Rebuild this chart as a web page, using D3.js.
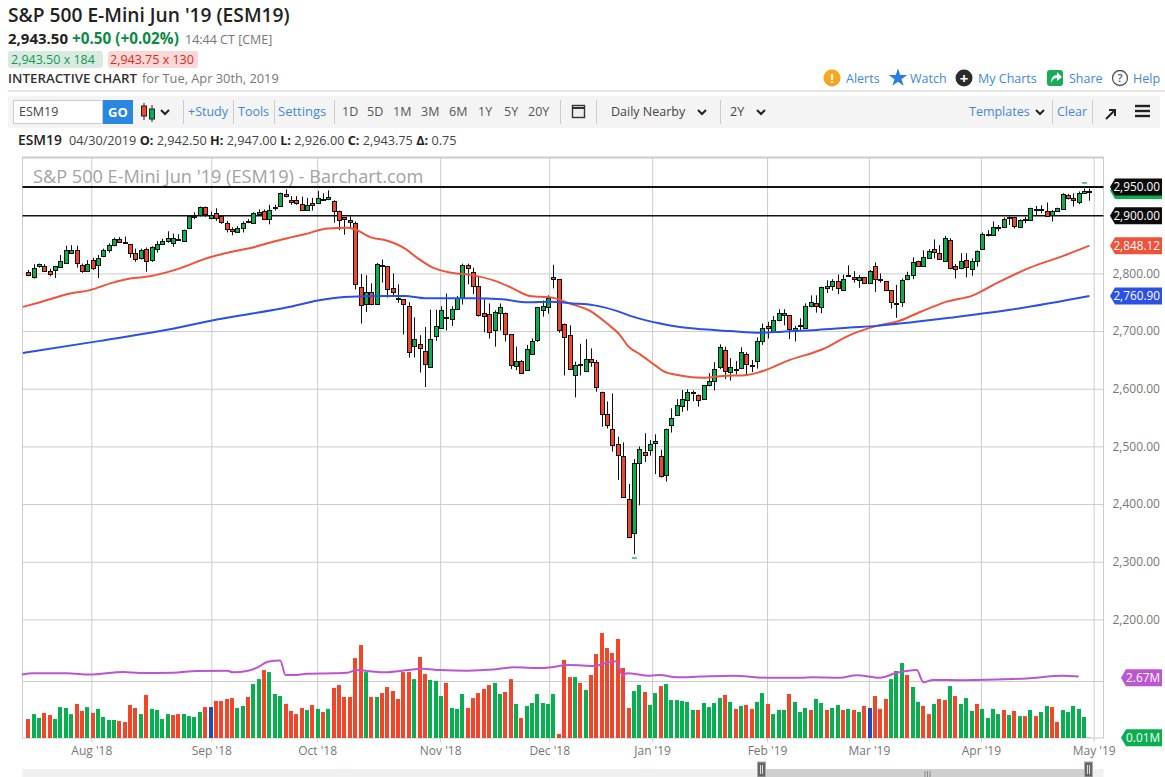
<!DOCTYPE html>
<html>
<head>
<meta charset="utf-8">
<title>ESM19</title>
<script src="https://cdn.jsdelivr.net/npm/d3@7"></script>
<style>
  html, body { margin: 0; padding: 0; background: #fff; overflow: hidden; }
  text { font-family: "Open Sans", sans-serif; }
</style>
</head>
<body>
<div id="chart"></div>
<script>
// Daily candles. Index 0 is the first bar on the left.
const opens = [2803,2795,2812,2813,2805,2805,2810,2819,2835,2840,2815,2805,2824,2814,2830,2842,2849,2860,2855,2851,
  2835,2826,2842,2822,2843,2852,2856,2852,2860,2857,2878,2899,2901,2915,2897,2905,2899,2888,2877,2872,
  2879,2889,2887,2903,2909,2895,2913,2917,2938,2928,2927,2921,2910,2922,2921,2929,2928,2925,2909,2897,
  2892,2887,2776,2748,2768,2747,2815,2812,2774,2758,2755,2744,2674,2677,2666,2638,2691,2706,2725,2722,
  2739,2757,2815,2803,2778,2732,2730,2702,2731,2732,2695,2639,2648,2633,2661,2684,2737,2742,2793,2790,
  2713,2694,2625,2643,2632,2652,2646,2595,2557,2531,2505,2484,2408,2349,2471,2491,2495,2507,2483,2452,
  2537,2554,2569,2580,2595,2589,2582,2606,2615,2637,2668,2630,2634,2635,2660,2640,2647,2683,2708,2699,
  2718,2728,2727,2701,2708,2706,2743,2749,2741,2776,2777,2786,2772,2797,2794,2788,2794,2784,2813,2791,
  2786,2771,2748,2750,2790,2797,2821,2813,2826,2842,2836,2822,2858,2812,2809,2823,2807,2821,2843,2866,
  2866,2879,2881,2895,2898,2881,2892,2893,2910,2911,2909,2901,2908,2911,2936,2930,2924,2939,2942.5];
const highs = [2806,2816,2817,2816,2808,2813,2832,2848,2849,2848,2817,2823,2827,2832,2843,2852,2862,2863,2864,2851,
  2843,2843,2845,2847,2856,2860,2873,2869,2868,2876,2899,2906,2916,2916,2907,2913,2899,2891,2880,2882,
  2890,2894,2906,2911,2911,2919,2919,2940,2946,2934,2934,2933,2931,2931,2943,2939,2944,2927,2909,2898,
  2899,2890,2799,2797,2783,2818,2824,2812,2800,2781,2755,2750,2724,2693,2707,2737,2737,2743,2765,2743,
  2761,2817,2817,2810,2794,2755,2748,2736,2748,2732,2695,2673,2650,2676,2687,2742,2753,2762,2815,2790,
  2713,2710,2647,2678,2686,2670,2650,2595,2578,2592,2517,2507,2435,2478,2500,2523,2511,2521,2494,2531,
  2566,2582,2598,2599,2597,2590,2606,2627,2646,2677,2673,2653,2648,2672,2663,2650,2689,2713,2716,2726,
  2738,2738,2727,2709,2722,2748,2762,2762,2777,2788,2790,2798,2798,2814,2804,2797,2794,2806,2819,2800,
  2786,2771,2780,2791,2803,2828,2822,2840,2842,2859,2849,2865,2861,2816,2835,2835,2826,2840,2871,2875,
  2890,2884,2897,2899,2898,2894,2898,2914,2917,2918,2923,2910,2914,2939,2938,2939,2942,2947,2947];
const lows = [2795,2791,2810,2804,2795,2792,2810,2817,2834,2810,2801,2803,2806,2792,2828,2836,2847,2854,2851,2827,
  2820,2824,2803,2820,2836,2852,2853,2846,2857,2856,2877,2894,2899,2898,2894,2891,2886,2871,2866,2871,
  2871,2887,2887,2900,2894,2885,2909,2916,2932,2919,2919,2910,2910,2909,2921,2927,2927,2888,2875,2867,
  2877,2772,2713,2733,2745,2745,2784,2758,2761,2749,2694,2654,2654,2628,2603,2636,2683,2705,2701,2709,
  2739,2746,2781,2764,2725,2698,2687,2673,2701,2682,2634,2632,2627,2632,2660,2681,2725,2730,2774,2697,
  2623,2635,2585,2623,2631,2638,2595,2534,2531,2491,2442,2412,2342,2313,2398,2473,2484,2452,2446,2439,
  2524,2553,2560,2562,2578,2569,2582,2604,2597,2634,2617,2614,2625,2634,2622,2629,2635,2676,2687,2697,
  2717,2710,2686,2682,2700,2706,2741,2732,2731,2766,2770,2764,2772,2795,2784,2775,2783,2784,2768,2784,
  2769,2739,2723,2742,2788,2790,2812,2813,2825,2826,2824,2822,2807,2791,2807,2793,2796,2812,2842,2864,
  2865,2873,2880,2884,2878,2880,2887,2891,2901,2904,2901,2890,2907,2910,2928,2916,2920,2939,2926];
const closes = [2797,2810,2816,2805,2800,2812,2821,2841,2841,2817,2804,2817,2810,2827,2840,2850,2859,2855,2853,2836,
  2824,2840,2821,2845,2851,2857,2861,2861,2858,2876,2899,2900,2915,2903,2902,2896,2888,2877,2874,2879,
  2888,2890,2904,2906,2895,2910,2915,2939,2934,2925,2921,2910,2919,2918,2930,2928,2932,2908,2894,2894,
  2888,2781,2745,2768,2748,2817,2814,2772,2767,2757,2746,2665,2687,2670,2644,2686,2709,2737,2724,2739,
  2758,2815,2809,2779,2727,2727,2698,2733,2742,2696,2641,2648,2628,2669,2683,2741,2744,2758,2790,2702,
  2691,2635,2642,2641,2652,2646,2602,2556,2538,2504,2486,2413,2342,2471,2495,2486,2505,2510,2448,2531,
  2550,2572,2582,2594,2594,2580,2606,2613,2635,2672,2632,2638,2635,2663,2642,2641,2682,2705,2705,2720,
  2731,2731,2703,2706,2710,2744,2750,2743,2776,2779,2786,2774,2791,2798,2791,2794,2784,2805,2791,2790,
  2771,2750,2746,2788,2797,2819,2813,2829,2839,2836,2826,2862,2810,2807,2822,2810,2821,2839,2869,2868,
  2880,2881,2895,2897,2882,2893,2894,2913,2911,2910,2901,2908,2913,2937,2931,2926,2940,2943,2943.75];

// Volume in millions of contracts, and how the bar was coloured (u up, d down, m marked).
const volumes = [.84,1.06,.89,1.11,1.02,.84,1.37,1.33,1.06,1.51,1.2,1.37,1.11,1.29,.93,.8,.8,.75,.71,1.46,
  1.33,1.06,1.91,1.29,1.24,.84,1.06,1.02,1.06,1.06,.97,.93,1.15,1.37,1.37,1.64,1.64,1.73,1.77,1.33,
  1.42,1.82,2.39,2.61,3.01,2.92,1.95,1.86,1.51,1.2,1.06,1.33,1.24,1.46,1.29,1.15,1.29,2.22,2.35,1.82,
  1.82,3.54,4.12,2.92,1.82,1.82,1.99,2.26,2.08,1.73,2.92,2.92,2.61,3.59,2.84,2.57,2.53,1.86,2.44,1.33,
  1.29,1.95,1.33,1.77,1.99,2.17,2.35,2.44,1.95,2.04,2.61,1.51,.89,1.42,1.55,1.95,1.55,1.51,1.95,.18,
  3.46,2.7,2.7,2.44,2.13,2.79,3.72,4.65,3.99,3.77,4.39,3.1,1.33,2.08,2.35,2.04,1.46,1.99,2.3,2.39,
  1.68,1.68,1.64,1.6,1.24,1.24,1.55,1.37,1.55,1.77,1.91,1.6,1.29,1.42,1.46,1.29,1.6,1.99,1.51,1.06,
  1.24,1.24,1.95,1.6,1.15,1.33,1.24,1.73,1.55,1.24,1.33,1.46,1.24,1.29,1.24,1.15,1.42,1.33,1.86,1.29,
  1.73,2.61,2.97,3.32,2.79,2.26,1.6,1.42,1.06,1.51,1.73,1.68,2.3,1.86,1.51,1.77,1.2,1.51,1.29,.89,
  1.29,1.06,1.24,1.02,1.2,.97,.97,1.24,.97,1.15,1.42,1.37,.71,1.24,1.15,1.42,1.29,.93,.01];
const volumeSides = ("d u u d d u u u u d d u d u u u u d d d d u d u u u u d d u u u u d m d d d d u " +
  "u d u u d u u u d d d d u d u d u d d d d d d u d u d d d d d d u d d u u u d u " +
  "u u d d d d d u u d d u d u u u u u u d d d u d u d d d d d d d d u u d u u d u " +
  "u u u u u d u u u u d u d u d d u u d u u u d u u u d u u d u u d u d u d m d d " +
  "d u u u d u u d d u d d u d u u u d u u u u d u d u d u d u u d d u u u u").split(" ");

// Moving averages, read at a few places along each line: [bar index, value].
const sma50 = [[-1,2742],[2.2,2750],[7.8,2765],[11.5,2771],[15.8,2784],[19,2791],[22.7,2795],[27.7,2807],[33.9,2828],
  [38.2,2838],[41.9,2845],[45.7,2855],[48.8,2862],[51.6,2868],[55.9,2878],[59.6,2879],[61,2876],[64.1,2862],[66.5,2858],
  [70.3,2843],[72.7,2826],[75.5,2810],[79,2801],[82.8,2797],[87.1,2787],[90.2,2775],[93.6,2761],[97.7,2758],[101,2748],
  [105.2,2733],[108,2713],[110.4,2693],[111.9,2674],[114.1,2660],[116.9,2641],[118.4,2631],[121.6,2623],[125.9,2619],
  [129.6,2622],[134.1,2624],[136.5,2629],[142.1,2650],[148.1,2668],[153.3,2693],[158.3,2709],[162.6,2718],[166.4,2733],
  [171.4,2751],[176.3,2762],[180.7,2783],[186.9,2810],[193,2830],[198,2848.12]];
const sma200 = [[-1,2662],[13.4,2683],[24.6,2700],[35.2,2720],[48.8,2742],[54,2753],[59,2759],[66.5,2761],[70.3,2761],
  [74,2757],[82.8,2757],[88.4,2755],[93.2,2750],[97.3,2751],[101.6,2748],[105.4,2745],[109.8,2735],[112.8,2725],[117.9,2713],
  [121.6,2707],[125.9,2703],[130.9,2700],[136.5,2697],[140.8,2699],[147.2,2702],[153.3,2706],[158.3,2709],[162.6,2713],
  [171.9,2723],[182.6,2736],[198,2760.9]];
const volumeAvg = [[-1.2,2.81],[.9,2.87],[7.2,2.87],[11.5,2.81],[17.7,2.92],[20.8,2.88],[27,2.89],[31.5,2.97],[37.1,2.98],
  [38.2,2.91],[41,2.98],[42.7,3.12],[44.7,3.38],[47,3.43],[48,2.79],[50.1,2.79],[52,2.85],[56.8,2.87],[59.5,2.89],[61.3,3.01],
  [63.2,2.97],[66.2,2.91],[69.4,2.97],[73.6,3.07],[76.8,3.01],[81.9,2.98],[86.7,3.03],[90.4,3.13],[96,3.1],[101,3.23],
  [105.7,3.19],[107.2,3.28],[109.8,3.4],[110.9,2.76],[111.7,2.87],[116,2.76],[117.9,2.79],[121,2.69],[125.3,2.72],[131.5,2.76],
  [137.8,2.67],[144,2.67],[146.4,2.69],[151.4,2.67],[154.6,2.78],[158.9,2.67],[162.1,2.89],[165.8,3.01],[167,2.47],[168.8,2.57],
  [174.4,2.56],[183.7,2.61],[186.3,2.64],[193,2.76],[196,2.73]];

// Axis ticks.
const monthTicks = [11.76,34.15,53.9,76.85,97.2,116.4,137.85,156.85,177.75,198.8];
const monthLabels = ["Aug '18","Sep '18","Oct '18","Nov '18","Dec '18","Jan '19","Feb '19","Mar '19","Apr '19","May '19"];
const priceTicks = [2800,2700,2600,2500,2400,2300,2200];
const levelLines = [2950,2900];

const WIDTH = 1165;
const HEIGHT = 777;
const PLOT = { left: 22.5, right: 1103.5, top: 157.5, split: 619.5, bottom: 738 };

const RED = "#f1462a";
const GREEN = "#07af4f";
const LINK = "#3f87dc";

const svg = d3.select("#chart").append("svg").attr("width", WIDTH).attr("height", HEIGHT);

const x = d3.scaleLinear().domain([0, 198]).range([28.3, 1089.4]);
const yPrice = d3.scaleLinear().domain([2200, 2950]).range([619.4, 186.9]);
const yVolume = d3.scaleLinear().domain([0, 1]).range([738, 715.43]);
const volumeColor = d3.scaleOrdinal().domain(["u", "d", "m"]).range([GREEN, RED, "#2349b8"]);

drawHeader();
drawToolbar();
drawGrid();
drawVolume();
drawCandles();
drawLines();
drawTags();
drawScroller();

/**
 * Small helper for plain text.
 */
function label (parent, str, px, py, size, fill, weight, anchor) {
  return parent.append("text")
    .attr("x", px).attr("y", py)
    .attr("font-size", size)
    .attr("font-weight", weight || 400)
    .attr("text-anchor", anchor || "start")
    .attr("fill", fill)
    .text(str);
}

/**
 * Quote block and the links at the top right.
 */
function drawHeader () {
  const g = svg.append("g");
  label(g, "S&P 500 E-Mini Jun '19 (ESM19)", 8, 22, 19.2, "#222", 600);
  label(g, "2,943.50", 8, 44, 15, "#222", 700);
  label(g, "+0.50 (+0.02%)", 72, 44, 15.3, "#0a8a45", 700);
  label(g, "14:44 CT [CME]", 185, 44, 12.5, "#777");

  g.append("rect").attr("x", 8).attr("y", 51).attr("width", 95).attr("height", 17).attr("rx", 3).attr("fill", "#d9ebe0");
  label(g, "2,943.50 x 184", 11, 64, 12.5, "#15994f");
  g.append("rect").attr("x", 108).attr("y", 51).attr("width", 90).attr("height", 17).attr("rx", 3).attr("fill", "#f9d9d7");
  label(g, "2,943.75 x 130", 110, 64, 12.5, "#e0281c");

  label(g, "INTERACTIVE CHART", 8, 83, 13.3, "#333", 600);
  label(g, "for Tue, Apr 30th, 2019", 142, 83, 12.8, "#777");

  g.append("line").attr("x1", 8).attr("x2", WIDTH).attr("y1", 91).attr("y2", 91).attr("stroke", "#ccc");

  // right hand links
  g.append("circle").attr("cx", 832).attr("cy", 78).attr("r", 8.5).attr("fill", "#f8a51f");
  label(g, "!", 832, 83, 13, "#fff", 700, "middle");
  label(g, "Alerts", 846, 83, 12.5, LINK);
  const star = d3.symbol().type(d3.symbolStar).size(105);
  g.append("path").attr("d", star()).attr("transform", "translate(898,78)").attr("fill", "#2a7de1");
  label(g, "Watch", 910, 83, 12.5, LINK);
  g.append("circle").attr("cx", 964).attr("cy", 78).attr("r", 8.5).attr("fill", "#2b2b2b");
  label(g, "+", 964, 83.5, 15, "#fff", 700, "middle");
  label(g, "My Charts", 978, 83, 12.5, LINK);
  g.append("rect").attr("x", 1047).attr("y", 70).attr("width", 16).attr("height", 16).attr("rx", 3).attr("fill", "#18ab5a");
  g.append("path").attr("d", "M1051 83 Q1051 75 1057 75 L1057 72 L1062 77 L1057 81 L1057 78 Q1053 78 1051 83Z").attr("fill", "#fff");
  label(g, "Share", 1069, 83, 12.5, LINK);
  g.append("circle").attr("cx", 1120).attr("cy", 78).attr("r", 7.5).attr("fill", "#fff").attr("stroke", "#555").attr("stroke-width", 1.3);
  label(g, "?", 1120, 82, 11, "#555", 600, "middle");
  label(g, "Help", 1133, 83, 12.5, LINK);

  label(g, "ESM19", 18, 145, 13.8, "#222", 600);
  const info = g.append("text").attr("x", 69).attr("y", 145).attr("font-size", 12.7).attr("fill", "#444");
  [["04/30/2019 ", 400], ["O: ", 700], ["2,942.50 ", 400], ["H: ", 700], ["2,947.00 ", 400], ["L: ", 700],
    ["2,926.00 ", 400], ["C: ", 700], ["2,943.75 ", 400], ["Δ: ", 700], ["0.75", 400]].forEach(d => {
    info.append("tspan").attr("font-weight", d[1]).attr("fill", d[1] == 700 ? "#222" : "#444").text(d[0]);
  });
}

/**
 * Grey strip with the symbol box and the period buttons.
 */
function drawToolbar () {
  const g = svg.append("g");
  g.append("rect").attr("x", 8).attr("y", 96).attr("width", WIDTH - 13).attr("height", 32).attr("fill", "#f4f4f4");
  g.append("rect").attr("x", 13.5).attr("y", 100.5).attr("width", 89).attr("height", 23).attr("fill", "#fff").attr("stroke", "#ccc");
  label(g, "ESM19", 19, 116, 12.5, "#444");
  g.append("rect").attr("x", 103).attr("y", 100).attr("width", 30).attr("height", 24).attr("fill", "#2a87e0");
  label(g, "GO", 118, 116.5, 13, "#fff", 700, "middle");

  // chart type icon
  g.append("line").attr("x1", 144).attr("x2", 144).attr("y1", 103).attr("y2", 120).attr("stroke", "#222");
  g.append("rect").attr("x", 141.5).attr("y", 106).attr("width", 5).attr("height", 10).attr("fill", RED).attr("stroke", "#222");
  g.append("line").attr("x1", 152).attr("x2", 152).attr("y1", 105).attr("y2", 122).attr("stroke", "#222");
  g.append("rect").attr("x", 149.5).attr("y", 109).attr("width", 5).attr("height", 10).attr("fill", GREEN).attr("stroke", "#222");

  [165, 702, 761, 1040].forEach(cx => {
    g.append("path").attr("d", `M${cx - 4} 110 L${cx} 114 L${cx + 4} 110`)
      .attr("fill", "none").attr("stroke", "#222").attr("stroke-width", 2);
  });

  [183, 233, 274, 334, 560, 596, 720, 1052, 1092].forEach(sx => {
    g.append("line").attr("x1", sx + .5).attr("x2", sx + .5).attr("y1", 100).attr("y2", 124).attr("stroke", "#ccc");
  });

  label(g, "+Study", 188, 116, 12.5, LINK);
  label(g, "Tools", 238, 116, 12.5, LINK);
  label(g, "Settings", 278, 116, 13, LINK);
  [["1D", 342], ["5D", 367], ["1M", 393], ["3M", 421], ["6M", 449], ["1Y", 478], ["5Y", 504], ["20Y", 528]].forEach(d => {
    label(g, d[0], d[1], 116, 12.5, "#555");
  });
  label(g, "Daily Nearby", 611, 116, 12.5, "#444");
  label(g, "2Y", 730, 116, 12.5, "#444");
  label(g, "Templates", 969, 116, 12.5, LINK);
  label(g, "Clear", 1057, 116, 12.5, LINK);

  // calendar
  g.append("rect").attr("x", 572.5).attr("y", 105.5).attr("width", 12).attr("height", 12).attr("fill", "#eee").attr("stroke", "#333").attr("stroke-width", 1.4);
  g.append("line").attr("x1", 572).attr("x2", 585).attr("y1", 108).attr("y2", 108).attr("stroke", "#333").attr("stroke-width", 2);
  // arrow and menu
  g.append("path").attr("d", "M1106 119 L1114 111 M1109 110 L1115 110 L1115 116").attr("fill", "none").attr("stroke", "#222").attr("stroke-width", 2);
  [106, 111, 116].forEach(my => {
    g.append("line").attr("x1", 1135).attr("x2", 1150).attr("y1", my).attr("y2", my).attr("stroke", "#222").attr("stroke-width", 2.4);
  });
}

/**
 * Frame, grid lines and the axes.
 */
function drawGrid () {
  const g = svg.append("g");

  // vertical month lines and their labels
  const monthAxis = d3.axisBottom(x)
    .tickValues(monthTicks)
    .tickFormat((d, i) => monthLabels[i])
    .tickSize(PLOT.bottom - PLOT.top + 4)
    .tickPadding(4);
  const months = g.append("g").attr("transform", `translate(0,${PLOT.top})`).call(monthAxis);
  months.select(".domain").remove();
  months.selectAll("line").attr("stroke", "#ccc");
  months.selectAll("text").attr("font-size", 12).attr("fill", "#777").attr("font-family", '"Open Sans", sans-serif');

  // horizontal price lines and their labels
  const priceGrid = d3.axisLeft(yPrice).tickValues(priceTicks).tickSize(PLOT.right - PLOT.left).tickFormat("");
  const grid = g.append("g").attr("transform", `translate(${PLOT.right},0)`).call(priceGrid);
  grid.select(".domain").remove();
  grid.selectAll("line").attr("stroke", "#ccc");

  const priceAxis = d3.axisRight(yPrice).tickValues(priceTicks).tickSize(0).tickPadding(9).tickFormat(d3.format(",.2f"));
  const prices = g.append("g").attr("transform", `translate(${PLOT.right},0)`).call(priceAxis);
  prices.select(".domain").remove();
  prices.selectAll("text").attr("font-size", 12).attr("fill", "#777").attr("font-family", '"Open Sans", sans-serif');

  // volume pane has a single line
  g.append("line").attr("x1", PLOT.left).attr("x2", PLOT.right)
    .attr("y1", Math.round(yVolume(2.52)) + .5).attr("y2", Math.round(yVolume(2.52)) + .5).attr("stroke", "#ccc");

  g.append("rect").attr("x", PLOT.left).attr("y", PLOT.top)
    .attr("width", PLOT.right - PLOT.left).attr("height", PLOT.bottom - PLOT.top)
    .attr("fill", "none").attr("stroke", "#ccc");
  g.append("line").attr("x1", PLOT.left).attr("x2", PLOT.right).attr("y1", PLOT.top).attr("y2", PLOT.top)
    .attr("stroke", "#ccc").attr("stroke-width", 2);

  label(g, "S&P 500 E-Mini Jun '19 (ESM19) - Barchart.com", 33, 183, 18.15, "#a3a3a3");
}

/**
 * Volume bars.
 */
function drawVolume () {
  svg.append("g").selectAll("rect")
    .data(volumes)
    .join("rect")
    .attr("x", (d, i) => Math.round(x(i) - 2))
    .attr("y", d => yVolume(d))
    .attr("width", 4)
    .attr("height", d => yVolume(0) - yVolume(d))
    .attr("fill", (d, i) => volumeColor(volumeSides[i]));
}

/**
 * Candles: a wick and a body for every bar, with the two level lines behind them.
 */
function drawCandles () {
  const g = svg.append("g");

  g.selectAll("line.level")
    .data(levelLines)
    .join("line")
    .classed("level", true)
    .attr("x1", PLOT.left).attr("x2", PLOT.right)
    .attr("y1", d => yPrice(d)).attr("y2", d => yPrice(d))
    .attr("stroke", "#111")
    .attr("stroke-width", d => d == 2950 ? 2 : 1.4);

  const candles = g.selectAll("g.candle")
    .data(opens.map((o, i) => ({ i, o, h: highs[i], l: lows[i], c: closes[i] })))
    .join("g")
    .classed("candle", true);

  candles.append("line")
    .attr("x1", d => Math.round(x(d.i)) + .5).attr("x2", d => Math.round(x(d.i)) + .5)
    .attr("y1", d => yPrice(d.h)).attr("y2", d => yPrice(d.l))
    .attr("stroke", "#111");

  candles.append("rect")
    .attr("x", d => Math.round(x(d.i)) - 1.5)
    .attr("y", d => Math.round(yPrice(Math.max(d.o, d.c))) + .5)
    .attr("width", 4)
    .attr("height", d => Math.max(1, Math.round(Math.abs(yPrice(d.o) - yPrice(d.c)))))
    .attr("fill", d => d.c >= d.o ? GREEN : RED)
    .attr("stroke", "#111");

  // little high and low markers, a few pixels off the extreme bars
  const highBar = 197;
  const lowBar = d3.leastIndex(lows);
  g.append("rect").attr("x", x(highBar) - 2).attr("y", yPrice(highs[highBar]) - 6.5).attr("width", 5).attr("height", 1.6)
    .attr("fill", "#3cb878");
  g.append("rect").attr("x", x(lowBar) - 2).attr("y", yPrice(lows[lowBar]) + 3).attr("width", 5).attr("height", 1.6)
    .attr("fill", "#3cb878");
}

/**
 * Moving averages on both panes.
 */
function drawLines () {
  const g = svg.append("g").attr("fill", "none").attr("stroke-linejoin", "round");
  const priceLine = d3.line().x(d => x(d[0])).y(d => yPrice(d[1])).curve(d3.curveMonotoneX);
  const volumeLine = d3.line().x(d => x(d[0])).y(d => yVolume(d[1])).curve(d3.curveMonotoneX);
  g.append("path").attr("d", priceLine(sma50)).attr("stroke", "#f0533a").attr("stroke-width", 2);
  g.append("path").attr("d", priceLine(sma200)).attr("stroke", "#2b50e8").attr("stroke-width", 2);
  g.append("path").attr("d", volumeLine(volumeAvg)).attr("stroke", "#bb55d2").attr("stroke-width", 2);
}

/**
 * Value flags down the right side.
 */
function drawTags () {
  const g = svg.append("g");
  const tag = (py, left, fill, str) => {
    const h = 8.5;
    const t = g.append("g");
    t.append("path")
      .attr("d", `M${left} ${py} L${left + 5} ${py - h} L1162 ${py - h} L1162 ${py + h} L${left + 5} ${py + h} Z`)
      .attr("fill", fill);
    if (str) {
      t.append("text").attr("x", 1160).attr("y", py + 4.5).attr("text-anchor", "end")
        .attr("font-size", 11.8).attr("fill", "#fff")
        .text(str);
    }
  };
  // last price sits behind the 2,950 flag, only its rim shows
  tag(yPrice(closes[198]), 1110, GREEN, "");
  tag(yPrice(2950), 1110, "#0b0b0b", "2,950.00");
  tag(yPrice(2900), 1110, "#0b0b0b", "2,900.00");
  tag(yPrice(2848.12), 1110, "#f0533a", "2,848.12");
  tag(yPrice(2760.9), 1110, "#2b50e8", "2,760.90");
  tag(yVolume(2.67), 1121, "#bb55d2", "2.67M");
  tag(yVolume(.01), 1121, GREEN, "0.01M");
}

/**
 * Range slider under the chart.
 */
function drawScroller () {
  const g = svg.append("g");
  g.append("rect").attr("x", PLOT.left).attr("y", 769).attr("width", PLOT.right - PLOT.left).attr("height", 8).attr("fill", "#f0f0f0");
  g.append("rect").attr("x", 762).attr("y", 769).attr("width", 326).attr("height", 8).attr("fill", "#cfcfcf");
  [757.5, 1084.5].forEach(hx => {
    g.append("rect").attr("x", hx).attr("y", 762).attr("width", 8).attr("height", 15).attr("fill", "#666").attr("stroke", "#aaa");
    g.append("path").attr("d", `M${hx + 3} 765 V774 M${hx + 5} 765 V774`).attr("stroke", "#ddd");
  });
  g.append("path").attr("d", "M925 771 V777 M927.5 771 V777 M930 771 V777").attr("stroke", "#888");
}
</script>
</body>
</html>
